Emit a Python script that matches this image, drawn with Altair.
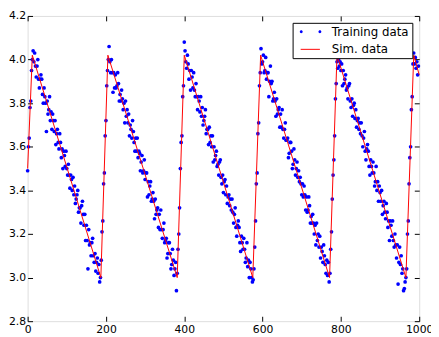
import altair as alt
import pandas as pd

# ---- data ----
# training samples, one every 2 units of x starting at 0
train_y = [
    # x 0..12 (rise)
    3.49, 3.60, 3.64, 3.78, 3.81, 3.95, 4.00,
    # x 14..186 (fall)
    4.04, 3.99, 4.03, 3.97, 3.92, 3.97, 4.00, 3.91, 3.87, 3.91,
    3.93, 3.91, 3.84, 3.80, 3.87, 3.83, 3.80, 3.67, 3.81, 3.75,
    3.77, 3.83, 3.72, 3.76, 3.68, 3.75, 3.72, 3.67, 3.72, 3.61,
    3.66, 3.68, 3.62, 3.59, 3.66, 3.62, 3.55, 3.59, 3.50, 3.58,
    3.56, 3.51, 3.58, 3.50, 3.47, 3.52, 3.47, 3.41, 3.47, 3.45,
    3.40, 3.46, 3.38, 3.42, 3.34, 3.36, 3.38, 3.40, 3.30, 3.32,
    3.32, 3.25, 3.33, 3.35, 3.29, 3.24, 3.29, 3.17, 3.24, 3.17,
    3.04, 3.22, 3.15, 3.16, 3.10, 3.16, 3.18, 3.10, 3.07, 3.11,
    3.03, 3.07, 3.09, 3.02, 3.06, 2.98, 3.00,
    # x 188..204 (rise)
    3.08, 3.21, 3.26, 3.43, 3.48, 3.65, 3.72, 3.88, 3.95,
    # x 206..380 (fall)
    4.00, 4.06, 3.99, 3.94, 4.00, 3.94, 3.85, 3.94, 3.87, 3.93,
    3.87, 3.88, 3.94, 3.89, 3.81, 3.84, 3.81, 3.86, 3.82, 3.77,
    3.80, 3.71, 3.81, 3.74, 3.77, 3.71, 3.75, 3.65, 3.70, 3.68,
    3.64, 3.72, 3.67, 3.62, 3.58, 3.64, 3.58, 3.64, 3.55, 3.58,
    3.57, 3.49, 3.53, 3.56, 3.48, 3.49, 3.54, 3.45, 3.48, 3.48,
    3.37, 3.44, 3.38, 3.42, 3.44, 3.35, 3.36, 3.39, 3.35, 3.27,
    3.36, 3.29, 3.31, 3.32, 3.23, 3.29, 3.22, 3.31, 3.22, 3.18,
    3.22, 3.25, 3.16, 3.17, 3.18, 3.09, 3.11, 3.16, 3.16, 3.11,
    3.04, 3.06, 3.13, 3.08, 3.01, 3.04, 3.07, 2.94,
    # x 382..398 (rise)
    3.02, 3.13, 3.20, 3.32, 3.50, 3.62, 3.65, 3.83, 3.88,
    # x 400..576 (fall)
    4.08, 4.04, 3.99, 3.96, 4.02, 3.98, 3.91, 3.95, 3.86, 3.95,
    3.92, 3.87, 3.94, 3.86, 3.83, 3.89, 3.83, 3.77, 3.83, 3.81,
    3.76, 3.83, 3.74, 3.78, 3.70, 3.72, 3.74, 3.77, 3.66, 3.68,
    3.68, 3.61, 3.69, 3.62, 3.65, 3.60, 3.65, 3.53, 3.60, 3.54,
    3.56, 3.58, 3.51, 3.52, 3.47, 3.53, 3.54, 3.46, 3.43, 3.47,
    3.39, 3.44, 3.45, 3.38, 3.42, 3.34, 3.37, 3.38, 3.33, 3.36,
    3.31, 3.36, 3.30, 3.25, 3.29, 3.32, 3.23, 3.19, 3.24, 3.26,
    3.23, 3.16, 3.12, 3.19, 3.16, 3.13, 3.18, 3.13, 3.07, 3.09,
    3.16, 3.05, 3.08, 3.00, 3.07, 3.04, 3.00, 2.98, 2.99,
    # x 578..594 (rise)
    3.04, 3.14, 3.26, 3.43, 3.48, 3.66, 3.71, 3.88, 3.94,
    # x 596..770 (fall)
    4.05, 3.98, 3.99, 4.02, 3.94, 3.95, 4.01, 3.91, 3.94, 3.94,
    3.83, 3.90, 3.97, 3.89, 3.90, 3.81, 3.82, 3.85, 3.81, 3.74,
    3.82, 3.75, 3.77, 3.78, 3.69, 3.75, 3.69, 3.77, 3.68, 3.64,
    3.68, 3.71, 3.63, 3.63, 3.64, 3.55, 3.57, 3.62, 3.62, 3.58,
    3.50, 3.52, 3.59, 3.54, 3.47, 3.50, 3.53, 3.46, 3.49, 3.44,
    3.46, 3.43, 3.38, 3.43, 3.37, 3.42, 3.38, 3.31, 3.37, 3.30,
    3.31, 3.37, 3.33, 3.25, 3.28, 3.25, 3.29, 3.25, 3.20, 3.24,
    3.15, 3.25, 3.17, 3.20, 3.14, 3.19, 3.09, 3.14, 3.12, 3.07,
    3.15, 3.10, 3.06, 3.02, 3.08, 3.01, 3.07, 2.98,
    # x 772..788 (rise)
    3.02, 3.13, 3.21, 3.36, 3.47, 3.54, 3.65, 3.82, 3.89,
    # x 790..966 (fall)
    3.99, 3.96, 4.00, 3.97, 3.99, 3.95, 3.98, 3.88, 3.95, 3.89,
    3.91, 3.93, 3.86, 3.87, 3.82, 3.88, 3.89, 3.81, 3.78, 3.82,
    3.74, 3.79, 3.80, 3.73, 3.77, 3.69, 3.72, 3.73, 3.68, 3.71,
    3.66, 3.71, 3.65, 3.60, 3.64, 3.67, 3.58, 3.54, 3.59, 3.61,
    3.58, 3.51, 3.47, 3.54, 3.51, 3.48, 3.53, 3.48, 3.42, 3.44,
    3.51, 3.40, 3.44, 3.35, 3.42, 3.39, 3.35, 3.40, 3.29, 3.33,
    3.35, 3.30, 3.27, 3.34, 3.30, 3.23, 3.26, 3.17, 3.26, 3.24,
    3.19, 3.26, 3.17, 3.14, 3.20, 3.15, 3.09, 3.15, 2.97, 3.07,
    3.14, 3.06, 3.10, 3.02, 3.04, 2.94, 2.95, 2.98, 3.00,
    # x 968..984 (rise)
    3.04, 3.20, 3.26, 3.43, 3.55, 3.60, 3.77, 3.83, 3.98,
    # x 986..998 (fall)
    4.03, 3.98, 4.01, 3.96, 3.99, 3.93, 3.97,
]
train_x = list(range(0, 2 * len(train_y), 2))

# simulated sawtooth: vertices of the red line
sim_x = [0, 12, 187, 205, 382, 400, 575, 595, 771, 790, 966, 986, 1000]
sim_y = [3.50, 4.02, 3.00, 4.02, 3.00, 4.02, 3.00, 4.02, 3.00, 4.02, 3.00, 4.02, 3.93]

series_names = ["Training data", "Sim. data"]
series_colors = ["#0000ff", "#ff0000"]
x_ticks = [0, 200, 400, 600, 800, 1000]
y_ticks = [2.8, 3.0, 3.2, 3.4, 3.6, 3.8, 4.0, 4.2]

# ---- chart ----
W, H = 399, 311
TICK = 5
FONT = "DejaVu Sans"

train_df = pd.DataFrame({"x": train_x, "y": train_y})
sim_df = pd.DataFrame({"x": sim_x, "y": sim_y})
legend_df = pd.DataFrame({"series": series_names})

color_scale = alt.Scale(domain=series_names, range=series_colors)
# legend glyphs (unit = 6px for symbolSize 144), drawn right of the symbol anchor
two_dots = ("M-0.283,0a0.25,0.25 0 1,0 0.5,0a0.25,0.25 0 1,0 -0.5,0Z"
            "M2.883,0a0.25,0.25 0 1,0 0.5,0a0.25,0.25 0 1,0 -0.5,0Z")
short_line = "M-0.133,-0.083H3.133V0.083H-0.133Z"
shape_scale = alt.Scale(domain=series_names, range=[two_dots, short_line])

x_enc = alt.X("x:Q", scale=alt.Scale(domain=[0, 1000], nice=False, zero=False),
              axis=alt.Axis(values=x_ticks, format="d", title=None, grid=True,
                            gridColor="black", gridOpacity=1, gridWidth=1,
                            gridDash=[TICK, H - 2 * TICK], ticks=False, tickSize=0,
                            domain=False, labelFont=FONT, labelFontSize=11,
                            labelColor="black", labelPadding=3, labelFlush=False))
y_enc = alt.Y("y:Q", scale=alt.Scale(domain=[2.8, 4.2], nice=False, zero=False),
              axis=alt.Axis(values=y_ticks, format=".1f", title=None, grid=True,
                            gridColor="black", gridOpacity=1, gridWidth=1,
                            gridDash=[TICK, W - 2 * TICK], ticks=False, tickSize=0,
                            domain=False, labelFont=FONT, labelFontSize=11,
                            labelColor="black", labelPadding=2, labelFlush=False))

leg = dict(title=None, orient="none", legendX=270, legendY=7, padding=3,
           strokeColor="black", fillColor="white", cornerRadius=0,
           labelFont=FONT, labelFontSize=12, labelColor="black",
           labelExpr="datum.label + ' '",
           symbolSize=144, symbolOpacity=1, symbolStrokeWidth=0,
           labelOffset=25, rowPadding=6)

points = alt.Chart(train_df).mark_circle(size=14, opacity=1, color=series_colors[0]).encode(
    x=x_enc, y=y_enc,
)
line = alt.Chart(sim_df).mark_line(strokeWidth=1, color=series_colors[1]).encode(
    x="x:Q", y="y:Q",
)
legend_layer = alt.Chart(legend_df).mark_point(filled=True, clip=True).encode(
    x=alt.value(-60), y=alt.value(-60),
    color=alt.Color("series:N", scale=color_scale, legend=alt.Legend(**leg)),
    shape=alt.Shape("series:N", scale=shape_scale, legend=alt.Legend(**leg)),
)

chart = alt.layer(points, line, legend_layer).properties(
    width=W, height=H,
    autosize=alt.AutoSizeParams(type="none"),
    padding={"left": 20, "top": 5, "right": 12, "bottom": 13},
).configure_view(stroke="black", strokeWidth=1).configure(background="white")

chart.save("out.html", embed_options={"renderer": "svg", "actions": False})
